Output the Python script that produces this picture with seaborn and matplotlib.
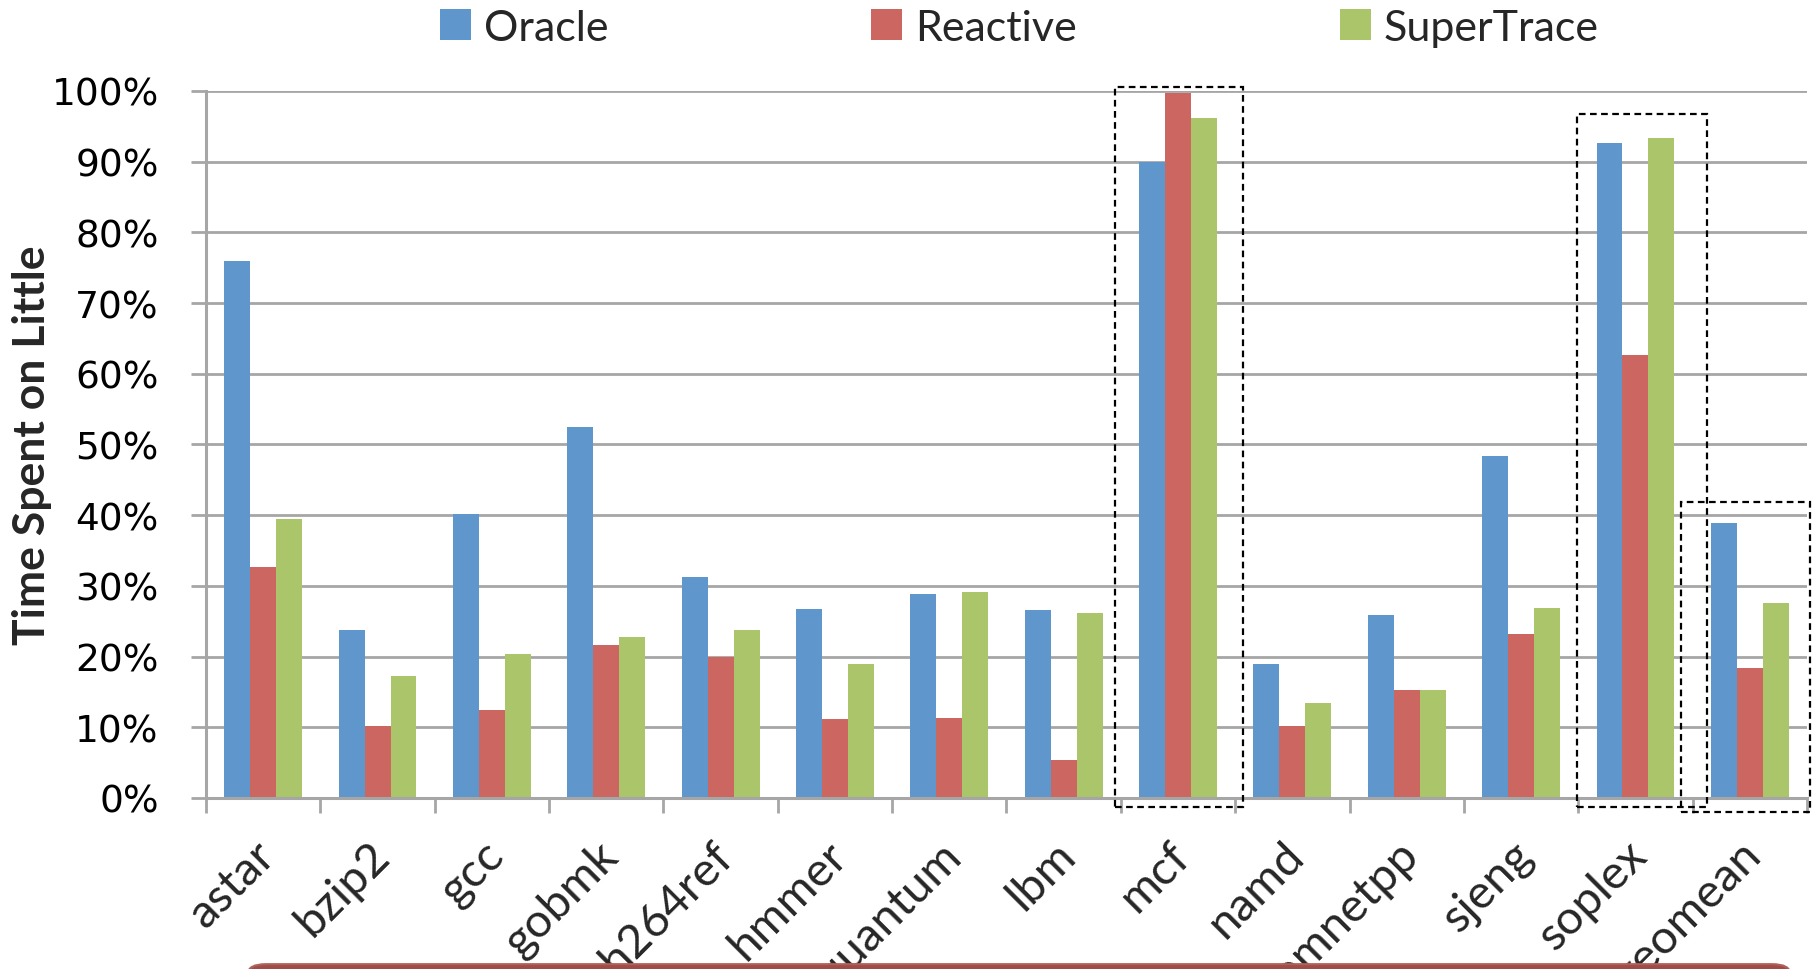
import numpy as np
import pandas as pd
import seaborn as sns
import matplotlib
matplotlib.use("Agg")
import matplotlib.pyplot as plt
from matplotlib.patches import Rectangle, FancyBboxPatch, Patch
from matplotlib.transforms import ScaledTranslation
from matplotlib.ticker import FixedLocator, FuncFormatter

# Benchmarks and the share of time spent on the little core (percent)
benchmarks = ["astar", "bzip2", "gcc", "gobmk", "h264ref", "hmmer", "libquantum",
              "lbm", "mcf", "namd", "omnetpp", "sjeng", "soplex", "geomean"]
oracle = [75.9, 23.8, 40.1, 52.5, 31.2, 26.8, 28.9, 26.6, 90.0, 18.9, 25.9, 48.4, 92.6, 38.9]
reactive = [32.7, 10.2, 12.5, 21.7, 20.0, 11.2, 11.3, 5.4, 99.7, 10.2, 15.3, 23.2, 62.6, 18.4]
supertrace = [39.4, 17.2, 20.4, 22.7, 23.8, 19.0, 29.1, 26.1, 96.2, 13.5, 15.3, 26.9, 93.3, 27.6]
series_names = ["Oracle", "Reactive", "SuperTrace"]
series_colors = ["#5F96CB", "#CC6660", "#ABC56B"]
y_ticks = list(range(0, 101, 10))

df = pd.DataFrame({
    "bench": benchmarks * 3,
    "config": [series_names[0]] * len(benchmarks) + [series_names[1]] * len(benchmarks)
              + [series_names[2]] * len(benchmarks),
    "value": oracle + reactive + supertrace,
})

sns.set_theme(style="white")
plt.rcParams["font.family"] = ["DejaVu Sans"]

fig = plt.figure(figsize=(18.14, 9.7), dpi=100)
ax = fig.add_axes([0.1136, 0.1763, 0.9961 - 0.1136, 0.9052 - 0.1763])

sns.barplot(data=df, x="bench", y="value", hue="config", order=benchmarks,
            hue_order=series_names, palette=series_colors, width=0.68,
            saturation=1, linewidth=0, ax=ax, legend=False)

grid_color = "#A6A6A6"
ax.set_ylim(0, 100)
ax.set_xlim(-0.5, len(benchmarks) - 0.5)
ax.set_axisbelow(True)
ax.yaxis.grid(True, color=grid_color, linewidth=2)
ax.xaxis.grid(False)
for side in ["top", "right"]:
    ax.spines[side].set_visible(False)
for side in ["left", "bottom"]:
    ax.spines[side].set_color(grid_color)
    ax.spines[side].set_linewidth(2.2)

# y axis: percentage ticks
ax.yaxis.set_major_locator(FixedLocator(y_ticks))
ax.yaxis.set_major_formatter(FuncFormatter(lambda v, p: f"{int(v)}%"))
ax.tick_params(axis="y", which="major", left=True, length=11, width=2,
               color=grid_color, pad=23, labelsize=27, labelcolor="black")
ax.set_ylabel("")

# x axis: boundary ticks between categories, labels centred on categories
n = len(benchmarks)
ax.xaxis.set_major_locator(FixedLocator(np.arange(-0.5, n, 1.0)))
ax.xaxis.set_major_formatter(FuncFormatter(lambda v, p: ""))
ax.xaxis.set_minor_locator(FixedLocator(np.arange(n)))
ax.set_xticks(np.arange(n), labels=benchmarks, minor=True)
ax.tick_params(axis="x", which="major", bottom=True, length=11, width=2,
               color=grid_color)
ax.tick_params(axis="x", which="minor", bottom=True, length=0, pad=36,
               labelsize=34)
ax.set_xlabel("")
shift = ScaledTranslation(5 / 100, 0, fig.dpi_scale_trans)
for lbl in ax.get_xticklabels(minor=True):
    lbl.set_rotation(45)
    lbl.set_rotation_mode("anchor")
    lbl.set_ha("right")
    lbl.set_va("center")
    lbl.set_family(["Lato", "DejaVu Sans"])
    lbl.set_transform(lbl.get_transform() + shift)

ax.text(-0.1087, 0.5, "Time Spent on Little", transform=ax.transAxes,
        rotation=90, ha="center", va="center", fontsize=32,
        fontweight="bold", family=["Lato", "DejaVu Sans"])

# Dashed highlight boxes around the notable groups
highlights = [(7.45, -1.3, 1.12, 101.9), (11.49, -1.3, 1.14, 98.1),
              (12.40, -2.0, 1.13, 43.9)]
for x0, y0, w, h in highlights:
    ax.add_patch(Rectangle((x0, y0), w, h, fill=False, edgecolor="black",
                           linewidth=1.6, linestyle=(0, (3, 2)),
                           clip_on=False, zorder=5))

# Legend across the top
handles = [Patch(facecolor=c, edgecolor="none") for c in series_colors]
fig.legend(handles, series_names, loc="upper center", ncol=3,
           bbox_to_anchor=(0.562, 1.03), frameon=False,
           prop={"family": ["Lato", "DejaVu Sans"], "size": 31},
           handlelength=0.72, handleheight=0.75, handletextpad=0.3,
           columnspacing=6.1)

# Callout panel peeking in at the bottom edge
fig.patches.append(FancyBboxPatch((0.1367, -0.06), 0.9868 - 0.1367, 0.065,
                                  boxstyle="round,pad=0,rounding_size=0.01",
                                  transform=fig.transFigure,
                                  facecolor="#9F4C48", edgecolor="#B0605A",
                                  linewidth=1.5, zorder=10))

fig.savefig("out.png", dpi=100)
